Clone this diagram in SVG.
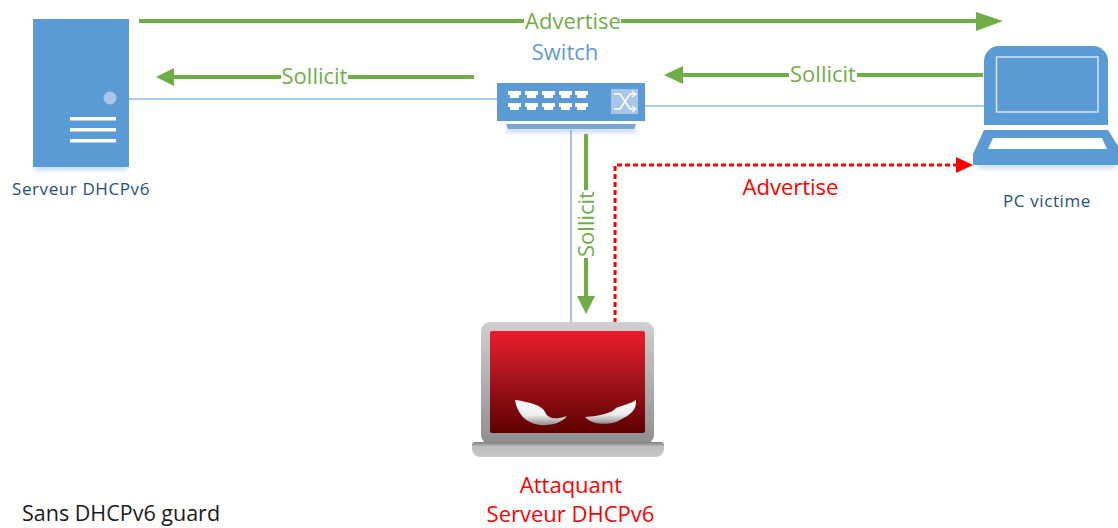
<svg xmlns="http://www.w3.org/2000/svg" width="1118" height="528" viewBox="0 0 1118 528">
<style>
text{font-family:"Open Sans","Noto Sans","Liberation Sans",sans-serif}
.g{fill:none;stroke:#70ad47;stroke-width:4}
.l{fill:none;stroke:#8db8e4;stroke-width:1.6}
.b{fill:#5b9bd5}
.gt{fill:#70ad47;font-size:22px;text-anchor:middle}
.rt{fill:#ff0000;font-size:22px;text-anchor:middle}
.s{fill:#1f4e79;font-size:17px;letter-spacing:.6px;text-anchor:middle}
.w{fill:#fff}
.shadow{fill:#5b9bd5;opacity:.3;filter:url(#sh)}
</style>
<defs>
<linearGradient id="scr" x1="0" y1="0" x2="0" y2="1"><stop offset="0" stop-color="#ed1c2a"/><stop offset="0.45" stop-color="#a8141f"/><stop offset="1" stop-color="#5e0000"/></linearGradient>
<linearGradient id="bez" x1="0" y1="0" x2="0" y2="1"><stop offset="0" stop-color="#cfcfcf"/><stop offset="1" stop-color="#8e8e8e"/></linearGradient>
<linearGradient id="base" x1="0" y1="0" x2="0" y2="1"><stop offset="0" stop-color="#7e7e7e"/><stop offset="0.3" stop-color="#bdbdbd"/><stop offset="1" stop-color="#c8c8c8"/></linearGradient>
<linearGradient id="eye" x1="0" y1="0" x2="0" y2="1"><stop offset="0" stop-color="#fff"/><stop offset="0.6" stop-color="#eee"/><stop offset="1" stop-color="#8c8c8c"/></linearGradient>
<filter id="sh" x="-20%" y="-20%" width="140%" height="140%"><feGaussianBlur stdDeviation="2"/></filter>
</defs>
<g id="connectors">
<path class="l" d="M129 99H497"/>
<path class="l" d="M645 106H984"/>
<path class="l" d="M571 130V322"/>
<path class="g" d="M139 21H524"/>
<path class="g" d="M621 21H984"/>
<polygon fill="#70ad47" points="1003,21 976,12 976,31"/>
<path class="g" d="M174 77H281"/>
<path class="g" d="M348 77H474"/>
<polygon fill="#70ad47" points="156,77 174,68 174,86"/>
<path class="g" d="M683 75H789"/>
<path class="g" d="M857 75H983"/>
<polygon fill="#70ad47" points="664,75 683,66 683,84"/>
<path class="g" d="M586 134V190"/>
<path class="g" d="M586 258V298"/>
<polygon fill="#70ad47" points="586,314 577,296 595,296"/>
<path d="M615 323V165H958" fill="none" stroke="#ff0000" stroke-width="3" stroke-dasharray="5 3"/>
<polygon fill="#ff0000" points="973,165 956,157 956,173"/>
<text class="gt" x="573" y="29">Advertise</text>
<text class="gt" x="314.500" y="84">Sollicit</text>
<text class="gt" x="823" y="82">Sollicit</text>
<text class="gt" transform="translate(594,224) rotate(-90)">Sollicit</text>
<text class="rt" x="790.500" y="195">Advertise</text>
</g>
<g id="server">
<rect class="shadow" x="35" y="163" width="92" height="8"/>
<rect class="b" x="33" y="19" width="96" height="148"/>
<circle cx="110" cy="98" r="6.500" fill="#a9c6e6"/>
<rect class="w" x="70" y="117" width="46" height="3.500"/>
<rect class="w" x="70" y="128" width="46" height="3.500"/>
<rect class="w" x="70" y="139" width="46" height="3.500"/>
<text class="s" x="81" y="195">Serveur DHCPv6</text>
</g>
<g id="switch">
<text x="565" y="60" fill="#5b9bd5" font-size="22" text-anchor="middle">Switch</text>
<rect class="shadow" x="506" y="126" width="130" height="7"/>
<rect class="b" x="497" y="83" width="148" height="38"/>
<polygon fill="#7ba4cf" points="506,124 636,124 634,129 508,129"/>
<g class="w">
<path d="M508 91h13v4h-2v3h-9v-3h-2zM525 91h13v4h-2v3h-9v-3h-2zM542 91h13v4h-2v3h-9v-3h-2zM559 91h13v4h-2v3h-9v-3h-2zM575 91h13v4h-2v3h-9v-3h-2z"/>
<path d="M508 103h13v4h-2v3h-9v-3h-2zM525 103h13v4h-2v3h-9v-3h-2zM542 103h13v4h-2v3h-9v-3h-2zM559 103h13v4h-2v3h-9v-3h-2zM575 103h13v4h-2v3h-9v-3h-2z"/>
</g>
<rect x="611" y="89" width="27" height="25" fill="#a9c6e6"/>
<path d="M614 94h6l10 15h5M614 109h6l10-15h5" fill="none" stroke="#fff" stroke-width="1.500"/>
<path d="M632 91l4 3-4 3M632 106l4 3-4 3" fill="none" stroke="#fff" stroke-width="1.200"/>
</g>
<g id="pc">
<rect class="shadow" x="978" y="162" width="138" height="7"/>
<path class="b" d="M984 125V61a15 15 0 0 1 15-15h94a15 15 0 0 1 15 15v64z"/>
<rect x="996.500" y="57" width="101.500" height="55" fill="none" stroke="#d6e5f4" stroke-width="1.500"/>
<path class="b" d="M984 130H1108L1118 146V165H973V154z"/>
<polygon class="w" points="993,138 1102,138 1107,149 988,149"/>
<text class="s" x="1047" y="207">PC victime</text>
</g>
<g id="attacker">
<rect x="481" y="322" width="173" height="122" rx="9" fill="url(#bez)"/>
<rect x="490" y="331" width="155" height="102" rx="2" fill="url(#scr)"/>
<path d="M472 445a3 3 0 0 1 3-3H661a3 3 0 0 1 3 3V449a8 8 0 0 1-8 8H480a8 8 0 0 1-8-8z" fill="url(#base)"/>
<path d="M515 400C530 402 543 406 545 412C548 419 556 420 567 416C562 423 550 426 540 425C525 423 517 413 515 400z" fill="url(#eye)"/>
<path d="M636 400C630 404 620 406 616 408C612 413 600 416 585 417C592 425 610 426 620 420C630 415 637 410 636 400z" fill="url(#eye)"/>
<text x="571" y="493" fill="#ff0000" font-size="22" text-anchor="middle">Attaquant</text>
<text x="570.500" y="522" fill="#ff0000" font-size="22" text-anchor="middle">Serveur DHCPv6</text>
</g>
<text x="22" y="521" fill="#1a1a1a" font-size="21.500">Sans DHCPv6 guard</text>
</svg>
